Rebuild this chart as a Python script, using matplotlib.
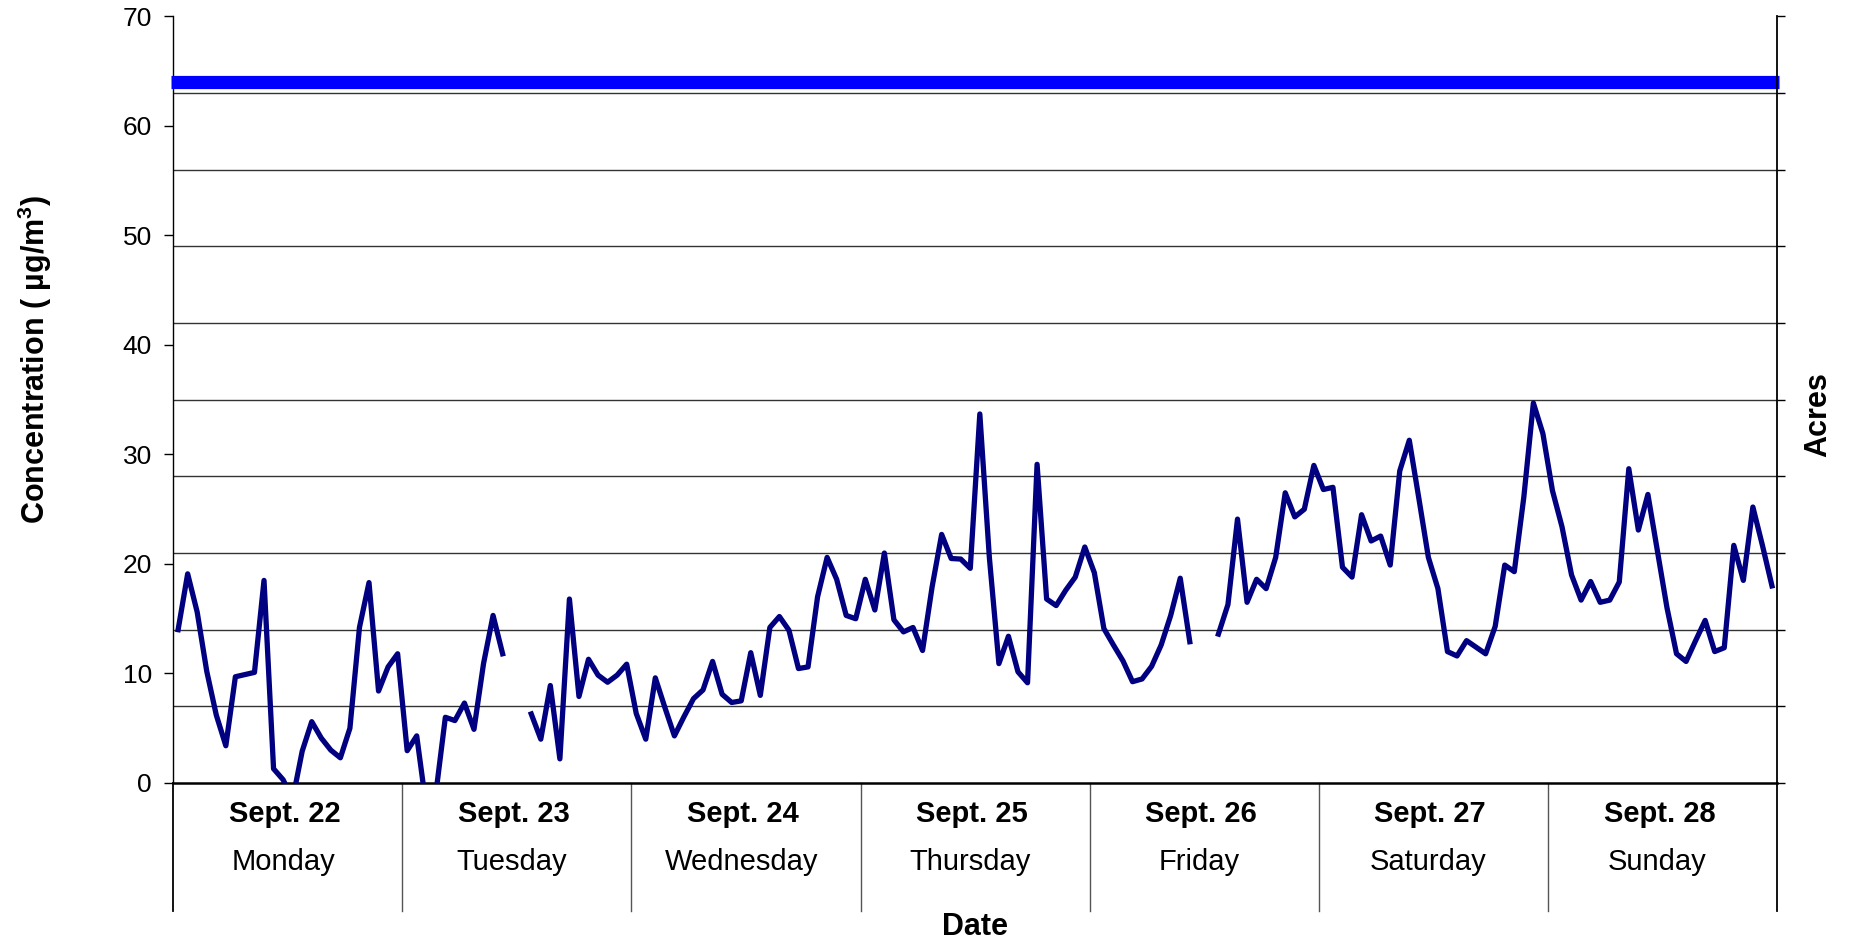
"""
Hourly concentration over one week, with a constant reference level
"""
import numpy as np
import matplotlib.pyplot as plt

plt.rcParams['font.family'] = ['Liberation Sans', 'DejaVu Sans']
plt.rcParams['mathtext.fontset'] = 'custom'
plt.rcParams['mathtext.rm'] = 'Liberation Sans'
plt.rcParams['mathtext.bf'] = 'Liberation Sans:bold'

# Category labels
dates = ['Sept. 22', 'Sept. 23', 'Sept. 24', 'Sept. 25', 'Sept. 26', 'Sept. 27', 'Sept. 28']
days = ['Monday', 'Tuesday', 'Wednesday', 'Thursday', 'Friday', 'Saturday', 'Sunday']

# Hourly concentration (ug/m3), 24 values per day, nan = missing
mon = [14.0, 19.1, 15.6, 10.2, 6.2, 3.4, 9.7, 9.9, 10.1, 18.5, 1.3, 0.3,
       -1.5, 2.9, 5.6, 4.1, 3.0, 2.3, 5.0, 14.2, 18.3, 8.4, 10.6, 11.8]
tue = [2.95, 4.3, -2.2, -1.0, 6.0, 5.7, 7.3, 4.9, 10.9, 15.3, 11.8, np.nan,
       np.nan, 6.3, 4.0, 8.9, 2.2, 16.8, 7.9, 11.3, 9.85, 9.2, 9.85, 10.85]
wed = [6.35, 4.0, 9.6, 6.9, 4.3, 6.05, 7.7, 8.5, 11.1, 8.1, 7.35, 7.5,
       11.9, 8.0, 14.2, 15.2, 13.95, 10.45, 10.6, 17.0, 20.6, 18.6, 15.3, 15.0]
thu = [18.6, 15.8, 21.0, 14.9, 13.8, 14.2, 12.1, 17.9, 22.7, 20.5, 20.45, 19.6,
       33.7, 20.6, 10.9, 13.4, 10.15, 9.15, 29.1, 16.8, 16.2, 17.6, 18.8, 21.55]
fri = [19.2, 14.1, 12.6, 11.15, 9.25, 9.5, 10.65, 12.6, 15.3, 18.7, 12.9, np.nan,
       np.nan, 13.6, 16.3, 24.1, 16.5, 18.6, 17.75, 20.6, 26.5, 24.3, 25.0, 29.0]
sat = [26.8, 27.0, 19.7, 18.8, 24.5, 22.1, 22.55, 19.9, 28.5, 31.3, 26.0, 20.6,
       17.75, 12.0, 11.6, 13.0, 12.4, 11.8, 14.3, 19.9, 19.3, 26.1, 34.7, 31.9]
sun = [26.7, 23.4, 19.0, 16.7, 18.4, 16.5, 16.7, 18.35, 28.7, 23.1, 26.35, 21.2,
       16.0, 11.8, 11.1, 13.0, 14.85, 12.0, 12.35, 21.7, 18.5, 25.2, 21.7, 18.0]

# Constant reference level
level = 64.0

conc = np.array(mon + tue + wed + thu + fri + sat + sun, dtype=float)
hours = np.arange(len(conc))
per_day = len(mon)

fig = plt.figure(figsize=(18.5, 9.47), dpi=100)
ax = fig.add_axes([0.0937, 0.1732, 0.8667, 0.8094])

ax.set_xlim(-0.5, len(conc) - 0.5)
ax.set_ylim(0, 70)

# Left axis: labelled ticks every 10
ax.set_yticks(np.arange(0, 71, 10))
ax.tick_params(axis='y', which='major', direction='out', length=6.5, width=1,
               labelsize=19, pad=9)
# Gridlines follow the secondary axis (every 7)
ax.set_yticks(np.arange(7, 71, 7), minor=True)
ax.tick_params(axis='y', which='minor', length=0)
ax.grid(which='minor', axis='y', color='#333333', lw=1.0)
ax.set_axisbelow(True)
ax.set_xticks([])

for s in ['top', 'right']:
    ax.spines[s].set_visible(False)
ax.spines['left'].set_linewidth(1.0)
ax.spines['bottom'].set_linewidth(1.8)

# Series
ax.axhline(level, xmin=-0.0016, xmax=1.0016, color='#0000FF', lw=9.5,
           solid_capstyle='butt', clip_on=False, zorder=3)
ax.plot(hours, conc, color='#000080', lw=3.8, zorder=4)

# Secondary axis
ax2 = ax.twinx()
ax2.set_ylim(0, 70)
ax2.set_yticks(np.arange(0, 71, 7))
ax2.set_yticklabels([])
ax2.tick_params(axis='y', direction='out', length=6, width=1)
for s in ['top', 'left', 'bottom']:
    ax2.spines[s].set_visible(False)
ax2.spines['right'].set_linewidth(1.3)

# Category axis boxes
trans = ax.get_xaxis_transform()
for k in range(len(dates) + 1):
    xb = k * per_day - 0.5
    edge = k in (0, len(dates))
    ax.plot([xb, xb], [0, -0.167], transform=trans, clip_on=False,
            color='black' if edge else '#555555', lw=1.3 if edge else 1.0)
for k in range(len(dates)):
    xc = k * per_day + (per_day - 1) / 2
    ax.text(xc - 0.3, -0.040, dates[k], transform=trans, ha='center', va='center',
            fontsize=21, fontweight='bold')
    ax.text(xc - 0.5, -0.103, days[k], transform=trans, ha='center', va='center',
            fontsize=21)

# Axis titles
fig.text(0.527, 0.021, 'Date', ha='center', va='center', fontsize=22, fontweight='bold')
fig.text(0.019, 0.62, r'Concentration ( µg/m$^{\mathbf{3}}$)', rotation=90,
         ha='center', va='center', fontsize=22, fontweight='bold')
fig.text(0.9827, 0.5618, 'Acres', rotation=90, ha='center', va='center',
         fontsize=22, fontweight='bold')

fig.savefig('out.png', dpi=100, facecolor='white')
